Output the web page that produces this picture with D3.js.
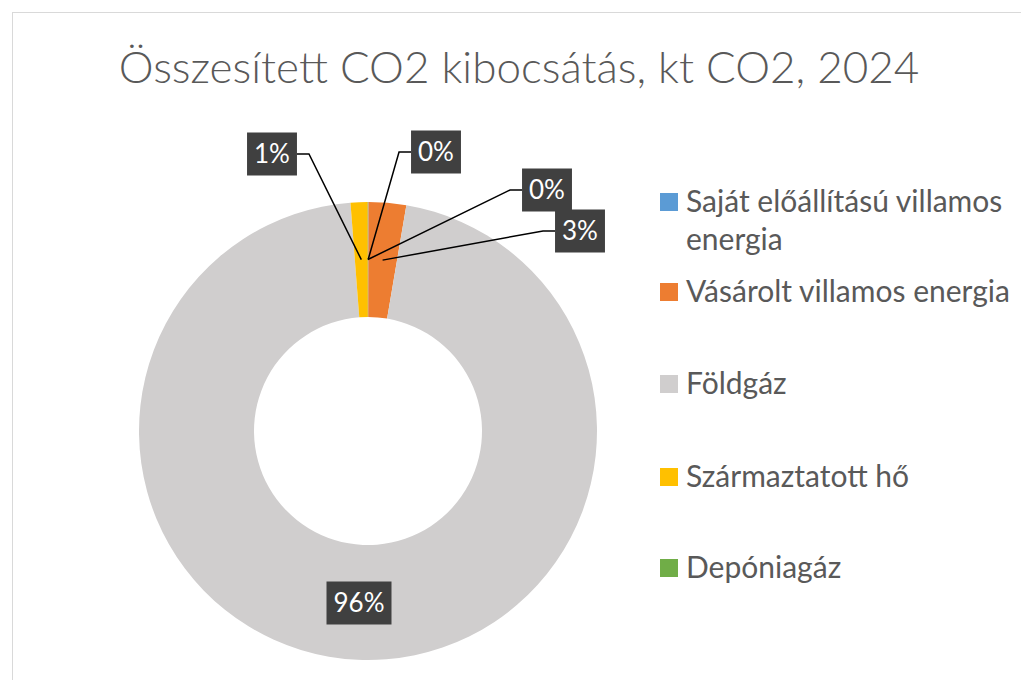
<!DOCTYPE html>
<html>
<head>
<meta charset="utf-8">
<script src="https://cdn.jsdelivr.net/npm/d3@7"></script>
<style>
  body { margin: 0; background: #fff; }
  text { font-family: Lato, "Open Sans", sans-serif; }
</style>
</head>
<body>
<div id="chart"></div>
<script>
var w = 1021
var h = 680

// data: kt CO2, 2024
var categories = ["Saját előállítású villamos energia", "Vásárolt villamos energia", "Földgáz", "Származtatott hő", "Depóniagáz"]
var values = [0.03, 2.65, 96.1, 1.2, 0.02]
var colors = ["#5B9BD5", "#ED7D31", "#D0CECE", "#FFC000", "#70AD47"]
// legend text split into lines
var legendLines = [["Saját előállítású villamos", "energia"], ["Vásárolt villamos energia"], ["Földgáz"], ["Származtatott hő"], ["Depóniagáz"]]

// where Excel put the data label boxes (centre of box), and which side the leader joins
var labelPos = [[436, 152, "left"], [580, 231, "left"], [359, 603, "none"], [272, 154, "right"], [547, 190, "left"]]

var cx = 368, cy = 431
var rOuter = 229, rInner = 114

var svg = d3.select("#chart").append("svg")
    .attr("width", w)
    .attr("height", h)

// chart area border
svg.append("rect")
    .attr("x", 12.5)
    .attr("y", 12.5)
    .attr("width", w)
    .attr("height", h)
    .attr("fill", "#fff")
    .attr("stroke", "#d9d9d9")

// title
svg.append("text")
    .attr("x", 519)
    .attr("y", 83)
    .attr("text-anchor", "middle")
    .attr("fill", "#595959")
    .style("font-size", "44px")
    .style("font-weight", 300)
    .text("Összesített CO2 kibocsátás, kt CO2, 2024")

var total = d3.sum(values)
var pie = d3.pie().sort(null).value(function (d) { return d })
var arcs = pie(values)

var arc = d3.arc().innerRadius(rInner).outerRadius(rOuter)
var midArc = d3.arc().innerRadius((rInner + rOuter) / 2).outerRadius((rInner + rOuter) / 2)

var g = svg.append("g")
    .attr("transform", "translate(" + cx + "," + cy + ")")

g.selectAll("path.slice")
    .data(arcs)
    .enter().append("path")
    .attr("class", "slice")
    .attr("d", arc)
    .attr("fill", function (d, i) { return colors[i] })

// labels
var fmt = function (v) { return Math.round(v / total * 100) + "%" }
var boxH = 43

arcs.forEach(function (d, i) {
    var lp = labelPos[i]
    var txt = fmt(values[i])
    var lab = svg.append("g")
    var t = lab.append("text")
        .attr("x", lp[0])
        .attr("y", lp[1] + 9)
        .attr("text-anchor", "middle")
        .attr("fill", "#fff")
        .style("font-size", "26px")
        .text(txt)
    var tw = t.node().getComputedTextLength()
    var boxW = tw + 14
    lab.insert("rect", "text")
        .attr("x", lp[0] - boxW / 2)
        .attr("y", lp[1] - boxH / 2)
        .attr("width", boxW)
        .attr("height", boxH)
        .attr("fill", "#404040")

    if (lp[2] != "none") {
        var c = midArc.centroid(d)
        var ex = lp[2] == "left" ? lp[0] - boxW / 2 : lp[0] + boxW / 2
        var elbow = lp[2] == "left" ? ex - 12 : ex + 12
        svg.append("polyline")
            .attr("points", [[cx + c[0], cy + c[1]], [elbow, lp[1]], [ex, lp[1]]].map(function (p) { return p.join(",") }).join(" "))
            .attr("fill", "none")
            .attr("stroke", "#000")
            .attr("stroke-width", 1.5)
    }
})

// legend
var legendY = [212, 302, 394, 487, 578]
var legend = svg.append("g")
categories.forEach(function (c, i) {
    legend.append("rect")
        .attr("x", 660)
        .attr("y", legendY[i] - 19)
        .attr("width", 18)
        .attr("height", 18)
        .attr("fill", colors[i])
    var t = legend.append("text")
        .attr("x", 686)
        .attr("y", legendY[i])
        .attr("fill", "#595959")
        .style("font-size", "30px")
    legendLines[i].forEach(function (line, j) {
        t.append("tspan")
            .attr("x", 686)
            .attr("dy", j == 0 ? 0 : 38)
            .text(line)
    })
})
</script>
</body>
</html>
